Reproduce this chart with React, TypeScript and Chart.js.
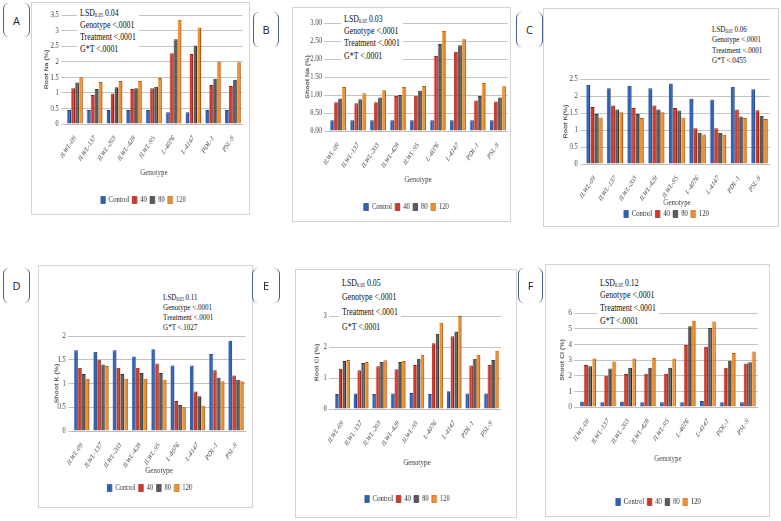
import React, { useEffect, useRef } from "react";
import Chart from "chart.js/auto";

const genotypes = ["ILWL-09", "ILWL-137", "ILWL-203", "ILWL-428", "ILWL-95", "L-4076", "L-4147", "PDL-1", "PSL-9"];
const treatments = ["Control", "40", "80", "120"];

// one row per treatment (Control, 40, 80, 120), one value per genotype
const rootNa = [
  [0.45, 0.45, 0.45, 0.45, 0.45, 0.38, 0.38, 0.45, 0.45],
  [1.15, 0.93, 0.98, 1.12, 1.15, 2.27, 2.25, 1.25, 1.22],
  [1.33, 1.12, 1.18, 1.15, 1.2, 2.72, 2.52, 1.45, 1.42],
  [1.5, 1.35, 1.38, 1.38, 1.48, 3.35, 3.1, 2.0, 1.98],
];
const shootNa = [
  [0.3, 0.3, 0.3, 0.3, 0.3, 0.3, 0.3, 0.3, 0.3],
  [0.8, 0.77, 0.8, 0.97, 0.98, 2.08, 2.2, 0.85, 0.82],
  [0.9, 0.88, 0.93, 1.0, 1.12, 2.42, 2.38, 0.97, 0.93],
  [1.22, 1.05, 1.13, 1.22, 1.25, 2.78, 2.55, 1.33, 1.24],
];
const rootK = [
  [2.33, 2.23, 2.3, 2.23, 2.37, 1.92, 1.9, 2.27, 2.2],
  [1.68, 1.72, 1.65, 1.72, 1.65, 1.05, 1.05, 1.6, 1.58],
  [1.47, 1.6, 1.47, 1.6, 1.57, 0.92, 0.92, 1.4, 1.42],
  [1.37, 1.52, 1.35, 1.52, 1.37, 0.87, 0.86, 1.35, 1.32],
];
const shootK = [
  [1.7, 1.67, 1.7, 1.57, 1.72, 1.38, 1.38, 1.62, 1.9],
  [1.33, 1.5, 1.33, 1.33, 1.42, 0.63, 0.83, 1.28, 1.17],
  [1.2, 1.4, 1.2, 1.22, 1.22, 0.55, 0.73, 1.12, 1.08],
  [1.1, 1.37, 1.1, 1.1, 1.08, 0.5, 0.53, 1.05, 1.05],
];
const rootCl = [
  [0.48, 0.5, 0.48, 0.5, 0.52, 0.48, 0.57, 0.5, 0.5],
  [1.3, 1.25, 1.38, 1.28, 1.42, 2.12, 2.35, 1.4, 1.42],
  [1.55, 1.48, 1.52, 1.52, 1.62, 2.43, 2.5, 1.62, 1.58],
  [1.58, 1.52, 1.57, 1.55, 1.75, 2.78, 3.0, 1.75, 1.88],
];
const shootCl = [
  [0.35, 0.3, 0.35, 0.3, 0.3, 0.3, 0.38, 0.3, 0.3],
  [2.68, 2.0, 2.1, 2.12, 2.12, 3.95, 3.85, 2.5, 2.78],
  [2.6, 2.45, 2.5, 2.5, 2.5, 5.15, 5.05, 2.95, 2.85],
  [3.1, 2.9, 3.1, 3.12, 3.1, 5.5, 5.45, 3.45, 3.55],
];

const fills = ["#2e62b5", "#d3392b", "#5a5a5a", "#f0902f"];
const edges = ["#1c3f7a", "#8c2017", "#2f2f2f", "#ad5d14"];

// the source figure is squeezed sideways; charts are drawn wide and scaled back
const SQ = 0.78;
const SERIF = "'Liberation Serif', 'DejaVu Serif', serif";
const SANS = "'Liberation Sans', Arial, sans-serif";
const LEG_FS = 8.5;
const LEG_PAD = 4;
const LEG_H = 15;
const GEN_FS = 9;
const YT_FS = 7;

interface Box { x: number; y: number; w: number; h: number }
interface PanelSpec {
  letter: string;
  tag: Box;
  frame: Box;
  plot: { l: number; r: number; t: number; b: number };
  yTitleX: number;
  genY: number;
  legY: number;
  yTitle: string;
  values: number[][];
  yMax: number;
  yStep: number;
  decimals?: number;
  note: { x: number; y: number; lh: number; fs: number; lsd: string; gt: string };
}

const panels: PanelSpec[] = [
  {
    letter: "A", tag: { x: 3, y: 3, w: 27, h: 34 },
    frame: { x: 31, y: 2, w: 219, h: 213 }, plot: { l: 65, r: 242, t: 15, b: 124 },
    yTitleX: 47, genY: 173, legY: 200, yTitle: "Root Na (%)", values: rootNa, yMax: 3.5, yStep: 0.5,
    note: { x: 80, y: 12.5, lh: 12, fs: 10, lsd: "0.04", gt: "<.0001" },
  },
  {
    letter: "B", tag: { x: 253, y: 12, w: 26, h: 35 },
    frame: { x: 292, y: 7, w: 219, h: 215 }, plot: { l: 328, r: 507, t: 23, b: 131 },
    yTitleX: 308, genY: 180, legY: 207, yTitle: "Shoot Na (%)", values: shootNa, yMax: 3, yStep: 0.5, decimals: 2,
    note: { x: 344, y: 19, lh: 12.3, fs: 10, lsd: "0.03", gt: "<.0001" },
  },
  {
    letter: "C", tag: { x: 516, y: 12, w: 27, h: 35 },
    frame: { x: 543, y: 8, w: 236, h: 219 }, plot: { l: 584, r: 769, t: 79, b: 164 },
    yTitleX: 566, genY: 203, legY: 214, yTitle: "Root K(%)", values: rootK, yMax: 2.5, yStep: 0.5,
    note: { x: 712, y: 29, lh: 10.4, fs: 9, lsd: "0.06", gt: "<.0455" },
  },
  {
    letter: "D", tag: { x: 3, y: 268, w: 27, h: 35 },
    frame: { x: 38, y: 265, w: 215, h: 243 }, plot: { l: 72, r: 245, t: 336, b: 431 },
    yTitleX: 57, genY: 471, legY: 488, yTitle: "Shoot K (%)", values: shootK, yMax: 2, yStep: 0.5,
    note: { x: 163, y: 297, lh: 10, fs: 9, lsd: "0.11", gt: "<.1027" },
  },
  {
    letter: "E", tag: { x: 252, y: 268, w: 28, h: 35 },
    frame: { x: 295, y: 269, w: 222, h: 249 }, plot: { l: 333, r: 500, t: 316, b: 409 },
    yTitleX: 317, genY: 463, legY: 499, yTitle: "Root Cl (%)", values: rootCl, yMax: 3, yStep: 1,
    note: { x: 342, y: 283, lh: 14.7, fs: 10, lsd: "0.05", gt: "<.0001" },
  },
  {
    letter: "F", tag: { x: 518, y: 268, w: 25, h: 35 },
    frame: { x: 545, y: 264, w: 225, h: 253 }, plot: { l: 578, r: 757, t: 313, b: 407 },
    yTitleX: 562, genY: 459, legY: 502, yTitle: "Shoot Cl (%)", values: shootCl, yMax: 6, yStep: 1,
    note: { x: 600, y: 283, lh: 12.7, fs: 10, lsd: "0.12", gt: "<.0001" },
  },
];

const BarPanel: React.FC<{ spec: PanelSpec }> = ({ spec }) => {
  const chartRef = useRef<HTMLCanvasElement>(null);
  const chartInstance = useRef<Chart>();

  useEffect(() => {
    if (!chartRef.current) return;
    const { frame, plot } = spec;

    const padLeft = Math.max(0, (spec.yTitleX - frame.x) / SQ - YT_FS * 0.6);
    const yW = (plot.l - frame.x) / SQ - padLeft;
    const padRight = (frame.x + frame.w - plot.r) / SQ;
    const padTop = plot.t - frame.y;
    const legTop = spec.legY - LEG_PAD - LEG_FS / 2;
    const xH = legTop - plot.b;
    const genPad = legTop - spec.genY - GEN_FS * 0.6;
    const padBottom = frame.y + frame.h - legTop - LEG_H;

    chartInstance.current = new Chart(chartRef.current, {
      type: "bar",
      data: {
        labels: genotypes,
        datasets: treatments.map((t, i) => ({
          label: t,
          data: spec.values[i],
          backgroundColor: fills[i],
          borderColor: edges[i],
          borderWidth: { top: 1, right: 1.5, left: 0, bottom: 0 },
          borderSkipped: false,
          categoryPercentage: 0.8,
          barPercentage: 0.95,
        })),
      },
      options: {
        animation: false,
        responsive: true,
        maintainAspectRatio: false,
        events: [],
        layout: { autoPadding: false, padding: { left: padLeft, right: padRight, top: padTop, bottom: padBottom } },
        plugins: {
          tooltip: { enabled: false },
          legend: {
            position: "bottom",
            maxHeight: LEG_H,
            labels: {
              font: { family: SERIF, size: LEG_FS },
              color: "#333",
              boxWidth: 6,
              boxHeight: 7,
              padding: LEG_PAD,
            },
          },
        },
        scales: {
          x: {
            grid: { display: false },
            border: { display: true, color: "#bdbdbd" },
            ticks: {
              autoSkip: false,
              minRotation: 50,
              maxRotation: 50,
              padding: 2,
              color: "#404040",
              font: { family: SERIF, size: 7.5, style: "italic" },
            },
            title: {
              display: true,
              text: "Genotype",
              color: "#404040",
              font: { family: SERIF, size: GEN_FS },
              padding: { top: 0, bottom: genPad },
            },
            afterFit: (scale: any) => {
              scale.height = xH;
              scale.paddingLeft = 0;
              scale.paddingRight = 0;
            },
          },
          y: {
            min: 0,
            max: spec.yMax,
            grid: { color: "#c4c4c4", tickLength: 5 },
            border: { display: false },
            ticks: {
              stepSize: spec.yStep,
              padding: 3,
              color: "#404040",
              font: { family: SERIF, size: 8.5 },
              callback: (v: any) => (spec.decimals ? Number(v).toFixed(spec.decimals) : String(v)),
            },
            title: {
              display: true,
              text: spec.yTitle,
              color: "#595959",
              font: { family: SANS, size: YT_FS, weight: "bold" },
              padding: 0,
            },
            afterFit: (scale: any) => {
              scale.width = yW;
              scale.paddingTop = 0;
              scale.paddingBottom = 0;
            },
          },
        },
      },
    });

    return () => {
      if (chartInstance.current) {
        chartInstance.current.destroy();
      }
    };
  }, [spec]);

  const { frame, tag, note } = spec;
  return (
    <>
      <div
        style={{
          position: "absolute", left: tag.x, top: tag.y, width: tag.w, height: tag.h, boxSizing: "border-box",
          borderLeft: "1.5px solid #45608f", borderRight: "1.5px solid #45608f", borderRadius: 6,
          display: "flex", alignItems: "center", justifyContent: "center",
          fontFamily: "'Open Sans', sans-serif", fontSize: 11, color: "#222",
        }}
      >
        {spec.letter}
      </div>
      <div
        style={{
          position: "absolute", left: frame.x, top: frame.y, width: frame.w, height: frame.h,
          boxSizing: "border-box", border: "1px solid #d4d4d4",
        }}
      />
      <div
        style={{
          position: "absolute", left: frame.x, top: frame.y, width: frame.w / SQ, height: frame.h,
          transform: `scaleX(${SQ})`, transformOrigin: "left top",
        }}
      >
        <canvas ref={chartRef}></canvas>
      </div>
      <div
        style={{
          position: "absolute", left: note.x - 3, top: note.y - note.lh / 2, background: "#fff",
          padding: "0 5px 1px 4px", transform: `scaleX(${SQ})`, transformOrigin: "left top",
          fontFamily: SERIF, fontSize: note.fs, lineHeight: `${note.lh}px`, color: "#111", whiteSpace: "nowrap",
        }}
      >
        <div>LSD<sub style={{ fontSize: note.fs * 0.6, verticalAlign: "-1px", lineHeight: 0 }}>0.05</sub> {note.lsd}</div>
        <div>Genotype &lt;.0001</div>
        <div>Treatment &lt;.0001</div>
        <div>G*T {note.gt}</div>
      </div>
    </>
  );
};

export default function App() {
  return (
    <div
      style={{
        position: "absolute", left: 0, top: 0, width: 781, height: 521,
        background: "#fff", overflow: "hidden",
      }}
    >
      {panels.map((p) => (
        <BarPanel key={p.letter} spec={p} />
      ))}
    </div>
  );
}
